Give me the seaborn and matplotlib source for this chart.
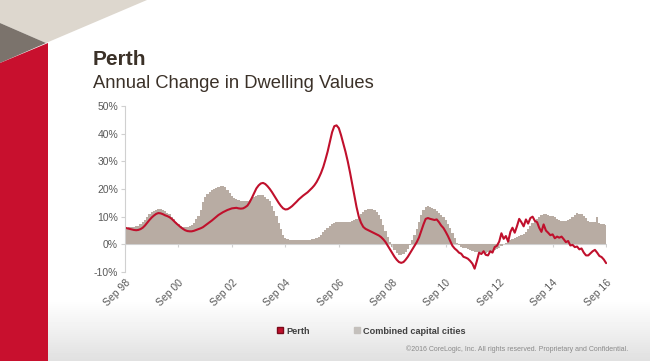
import numpy as np
import pandas as pd
import seaborn as sns
import matplotlib.pyplot as plt
from matplotlib.patches import Polygon
from matplotlib.lines import Line2D

# monthly annual change (%), Sep 1998 .. Sep 2016
perth = [
    6.0, 5.8, 5.6, 5.4,                                                    # 1998 Sep-Dec
    5.2, 5.1, 5.2, 5.5, 6.0, 6.8, 7.8, 8.8, 9.7, 10.4, 11.0, 11.3,         # 1999
    11.2, 10.9, 10.5, 10.2, 9.8, 9.2, 8.4, 7.6, 6.9, 6.2, 5.6, 5.1,        # 2000
    4.8, 4.7, 4.7, 4.9, 5.2, 5.5, 5.8, 6.2, 6.8, 7.4, 8.0, 8.6,            # 2001
    9.3, 10.0, 10.6, 11.1, 11.6, 12.0, 12.4, 12.7, 13.0, 13.1, 13.2, 13.0, # 2002
    12.9, 13.0, 13.4, 14.0, 15.2, 16.8, 18.5, 20.2, 21.3, 22.0, 22.2, 21.8,# 2003
    21.0, 20.0, 18.9, 17.6, 16.3, 15.0, 13.9, 13.0, 12.6, 12.7, 13.2, 13.8,# 2004
    14.6, 15.4, 16.2, 16.9, 17.6, 18.2, 18.8, 19.6, 20.4, 21.3, 22.5, 24.0,# 2005
    25.8, 28.0, 30.5, 33.5, 37.0, 40.5, 42.7, 43.0, 42.0, 39.5, 36.5, 33.5,# 2006
    30.0, 26.0, 22.0, 17.5, 13.5, 10.0, 7.8, 6.3, 5.6, 5.2, 4.8, 4.4,      # 2007
    4.0, 3.6, 3.2, 2.6, 1.8, 0.8, -0.5, -1.8, -3.2, -4.5, -5.6, -6.4,      # 2008
    -6.7, -6.4, -5.6, -4.5, -3.2, -1.8, -0.6, 0.8, 2.5, 4.8, 7.2, 9.2,     # 2009
    9.5, 9.2, 9.0, 8.8, 9.0, 8.0, 6.8, 5.9, 4.5, 3.0, 1.2, -0.5,           # 2010
    -1.5, -2.2, -3.0, -3.4, -4.5, -4.8, -5.2, -6.0, -7.0, -8.8, -6.0, -3.0,# 2011
    -3.5, -2.5, -3.8, -4.0, -2.5, -3.0, -1.0, -0.5, 1.0, 4.0, 2.0, 3.0,    # 2012
    1.0, 4.5, 6.0, 4.2, 6.5, 9.2, 8.0, 6.5, 9.0, 7.5, 9.5, 10.0,           # 2013
    8.5, 8.0, 6.0, 4.5, 7.2, 5.0, 4.2, 3.3, 3.6, 2.2, 2.8, 2.4,            # 2014
    2.8, 1.8, 0.8, 1.2, -0.4, -0.2, -1.0, -0.8, -1.8, -1.5, -3.0, -4.0,    # 2015
    -4.0, -3.2, -2.5, -2.0, -3.0, -4.2, -4.6, -5.5, -6.8,                  # 2016 Jan-Sep
]

combined = [
    6.0, 6.0, 6.1, 6.2,
    6.3, 6.5, 6.8, 7.3, 8.0, 8.8, 9.8, 10.8, 11.6, 12.2, 12.5, 12.6,
    12.6, 12.4, 12.0, 11.5, 10.8, 10.0, 9.0, 8.0, 7.2, 6.7, 6.4, 6.3,
    6.4, 6.6, 7.0, 7.8, 9.0, 10.4, 12.5, 15.2, 17.2, 18.3, 19.0, 19.5,
    19.9, 20.4, 20.8, 21.1, 21.2, 20.6, 19.6, 18.6, 17.6, 16.8, 16.4, 16.0,
    15.8, 15.6, 15.5, 15.6, 16.0, 16.6, 17.2, 17.6, 17.9, 17.9, 17.8, 17.2,
    16.4, 15.5, 14.0, 12.2, 10.2, 7.8, 5.4, 3.5, 2.4, 1.9, 1.7, 1.6,
    1.6, 1.6, 1.5, 1.5, 1.5, 1.5, 1.6, 1.7, 1.8, 2.0, 2.3, 2.8,
    3.5, 4.3, 5.2, 6.0, 6.8, 7.3, 7.7, 7.9, 8.0, 8.0, 8.0, 8.0,
    8.0, 8.1, 8.3, 8.7, 9.3, 10.0, 11.0, 11.8, 12.4, 12.8, 12.9, 12.8,
    12.5, 11.8, 10.6, 9.0, 7.0, 4.8, 2.6, 0.8, -0.8, -2.2, -3.3, -4.0,
    -4.0, -3.6, -2.8, -1.6, -0.2, 1.5, 3.5, 5.6, 8.0, 10.5, 12.5, 13.6,
    13.8, 13.6, 13.2, 12.6, 12.0, 11.4, 10.6, 9.8, 8.8, 7.4, 5.8, 4.0,
    2.2, 0.6, -0.4, -0.9, -1.2, -1.5, -1.8, -2.1, -2.4, -2.7, -2.8, -2.9,
    -2.9, -2.9, -3.0, -2.9, -2.7, -2.4, -2.0, -1.7, -1.2, -0.6, 0.1, 0.6,
    1.0, 1.4, 1.8, 2.2, 2.6, 3.0, 3.3, 3.8, 4.5, 5.4, 6.5, 7.6,
    8.6, 9.3, 10.0, 10.6, 11.0, 10.8, 10.6, 10.4, 10.2, 9.8, 9.2, 8.8,
    8.5, 8.4, 8.6, 8.8, 9.2, 9.8, 10.6, 11.2, 10.8, 11.0, 10.4, 9.6,
    8.6, 8.0, 8.2, 8.0, 10.0, 7.8, 7.4, 7.2, 7.0,
]

yticks = [-10, 0, 10, 20, 30, 40, 50]

dates = pd.date_range('1998-09-01', '2016-09-01', freq='MS')
df = pd.DataFrame({'date': dates, 'Perth': perth, 'Combined capital cities': combined})

RED = '#c0102c'
GREY = '#b8aca3'
TXT = '#595959'

sns.set_style('white')
plt.rcParams['font.family'] = ['Liberation Sans', 'DejaVu Sans']

fig = plt.figure(figsize=(6.5, 3.61), dpi=100)

# slide background + corner decoration
bg = fig.add_axes([0, 0, 1, 1], zorder=-10)
bg.axis('off')
shade = np.ones((361, 1))
shade[300:, 0] = np.linspace(1.0, 0.88, 61)
bg.imshow(shade, cmap='gray', vmin=0, vmax=1, aspect='auto', extent=[0, 1, 0, 1])
bg.set_xlim(0, 1)
bg.set_ylim(0, 1)


def px(pts):
    return [(x / 650, 1 - y / 361) for x, y in pts]


bg.add_patch(Polygon(px([(0, 0), (147, 0), (46, 43), (0, 23)]), color='#ddd7ce', lw=0))
bg.add_patch(Polygon(px([(0, 23), (46, 43), (0, 63)]), color='#7b736c', lw=0))
bg.add_patch(Polygon(px([(0, 63), (48, 43), (48, 361), (0, 361)]), color='#c8102e', lw=0))

fig.text(93 / 650, 1 - 65 / 361, 'Perth', fontsize=15, fontweight='bold',
         color='#3b3128', va='baseline')
fig.text(93 / 650, 1 - 88 / 361, 'Annual Change in Dwelling Values', fontsize=13.2,
         color='#3b3128', va='baseline')

ax = fig.add_axes([125 / 650, 1 - 272 / 361, 482 / 650, 166 / 361])
ax.fill_between(df['date'], 0, df['Combined capital cities'], step='mid', color=GREY, lw=0)
sns.lineplot(data=df, x='date', y='Perth', ax=ax, color=RED, lw=1.5)

ax.set_ylim(-10, 50)
ax.set_xlim(dates[0], dates[-1] + pd.Timedelta(days=12))
ax.set_yticks(yticks)
ax.set_yticklabels([f'{v}%' for v in yticks], color=TXT, fontsize=7.5)
xt = dates[::24]
ax.set_xticks(xt)
ax.set_xticklabels([d.strftime('Sep %y') for d in xt], rotation=45, ha='right',
                   rotation_mode='anchor', color=TXT, fontsize=7.5)
ax.tick_params(axis='x', length=0, pad=4)
ax.tick_params(axis='y', length=3, color='#d0d0d0', width=0.8, pad=2, left=True)
ax.set_xlabel('')
ax.set_ylabel('')
ax.patch.set_alpha(0)
for s in ['top', 'right', 'bottom']:
    ax.spines[s].set_visible(False)
ax.spines['left'].set_color('#d0d0d0')
ax.spines['left'].set_linewidth(0.8)
ax.axhline(0, color='#d0d0d0', lw=0.8, zorder=0.5)
ax.vlines(xt, -0.9, 0, color='#d0d0d0', lw=0.8)

handles = [
    Line2D([], [], marker='s', ls='none', mfc=RED, mec='#7a0a1a', ms=4.5, label='Perth'),
    Line2D([], [], marker='s', ls='none', mfc='#c4c0bc', mec='#c4c0bc', ms=4.5,
           label='Combined capital cities'),
]
fig.legend(handles=handles, loc='center', bbox_to_anchor=(370 / 650, 1 - 331 / 361), ncol=2,
           frameon=False, columnspacing=4.5, handletextpad=0.1, handlelength=1.2,
           prop={'size': 6.6, 'weight': 'bold'}, labelcolor='#404040')

fig.text(628 / 650, 1 - 349 / 361,
         '©2016 CoreLogic, Inc. All rights reserved. Proprietary and Confidential.',
         ha='right', va='center', fontsize=5, color='#8a8a8a')

fig.savefig('out.png', dpi=100)
